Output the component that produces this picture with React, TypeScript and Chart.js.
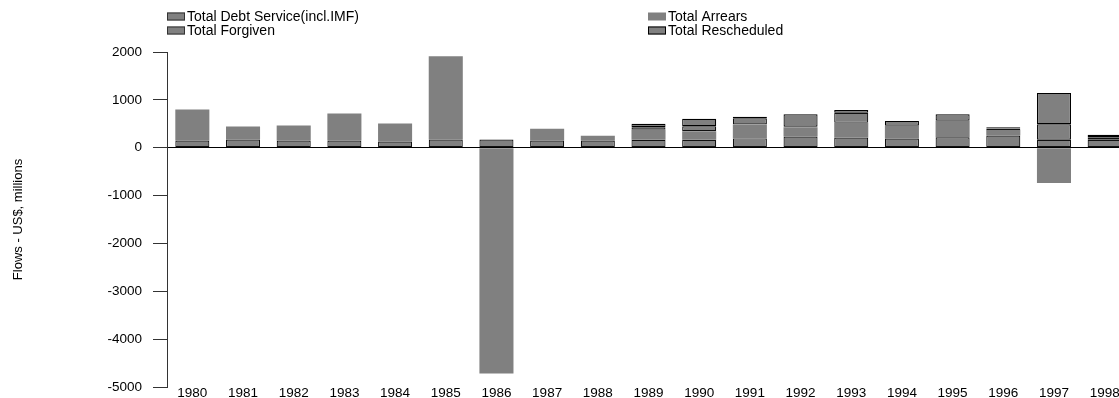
import React, { useEffect, useRef } from "react";
import { Chart, registerables } from "chart.js";

Chart.register(...registerables);

const years = ["1980","1981","1982","1983","1984","1985","1986","1987","1988","1989","1990","1991","1992","1993","1994","1995","1996","1997","1998"];
const debtService = [150,170,150,150,130,170,170,150,150,165,165,195,235,210,190,220,255,165,165];
const arrears = [650,275,315,565,375,1740,-4720,245,100,210,180,290,195,310,270,345,115,-735,null];
const forgiven = [null,null,null,null,null,null,null,null,null,55,105,130,10,210,null,null,30,325,55];
const rescheduled = [null,null,null,null,null,null,null,null,null,70,155,30,260,60,100,135,30,655,50];
const yTicks = [2000,1000,0,-1000,-2000,-3000,-4000,-5000];

const seriesNames = ["Total Debt Service(incl.IMF)", "Total Arrears", "Total Forgiven", "Total Rescheduled"];
const FONT = "'Liberation Sans', Arial, sans-serif";
const GREY = "#808080";

const legendItems = [
  { name: seriesNames[0], col: 0, row: 0, border: "#333333" },
  { name: seriesNames[2], col: 0, row: 1, border: "#333333" },
  { name: seriesNames[1], col: 1, row: 0, border: null },
  { name: seriesNames[3], col: 1, row: 1, border: "#000000" },
];

const legendPlugin = {
  id: "customLegend",
  afterDraw(chart: any) {
    const ctx = chart.ctx;
    const left = chart.chartArea.left;
    ctx.save();
    ctx.font = `14px ${FONT}`;
    ctx.textBaseline = "middle";
    ctx.textAlign = "left";
    legendItems.forEach((it) => {
      const x = Math.round(left + it.col * 481);
      const cy = 16.5 + it.row * 14;
      ctx.fillStyle = GREY;
      ctx.fillRect(x, cy - 4, 18, 8);
      if (it.border) {
        ctx.strokeStyle = it.border;
        ctx.lineWidth = 1;
        ctx.strokeRect(x + 0.5, cy - 4 + 0.5, 17, 7);
      }
      ctx.fillStyle = "#000";
      ctx.fillText(it.name, x + 20, cy + 0.5);
    });
    ctx.restore();
  },
};

export default function App() {
  const ref = useRef<HTMLCanvasElement | null>(null);
  useEffect(() => {
    document.body.style.margin = "0";
    document.body.style.overflow = "hidden";
    document.documentElement.style.overflow = "hidden";
    const common = {
      backgroundColor: GREY,
      barPercentage: 0.672,
      categoryPercentage: 1,
      borderSkipped: false as const,
      inflateAmount: 0,
      stack: "s",
    };
    const chart = new Chart(ref.current!, {
      type: "bar",
      data: {
        labels: years,
        datasets: [
          { ...common, label: seriesNames[0], data: debtService, borderColor: "#111", borderWidth: 1.2 },
          { ...common, label: seriesNames[1], data: arrears as any, borderColor: "#9a9a9a", borderWidth: 0 },
          { ...common, label: seriesNames[2], data: forgiven as any, borderColor: "#111", borderWidth: 1.2 },
          { ...common, label: seriesNames[3], data: rescheduled as any, borderColor: "#000", borderWidth: 1.2 },
        ],
      },
      options: {
        responsive: false,
        animation: false,
        layout: { padding: { top: 52, left: 0, right: 0, bottom: 0 } },
        plugins: { legend: { display: false }, tooltip: { enabled: false } },
        scales: {
          x: {
            stacked: true,
            grid: { display: false, drawTicks: false },
            border: { display: false },
            ticks: { color: "#000", font: { family: FONT, size: 13.5 }, padding: -2, maxRotation: 0, autoSkip: false },
            afterFit: (s: any) => { s.height = 11; s.paddingLeft = 0; s.paddingRight = 0; },
          },
          y: {
            stacked: true,
            min: -5000,
            max: 2000,
            afterBuildTicks: (s: any) => { s.ticks = yTicks.map((v) => ({ value: v })); },
            ticks: {
              color: "#000",
              font: { family: FONT, size: 13.5 },
              padding: 11,
              callback: (v: any) => String(v),
            },
            grid: {
              drawOnChartArea: true,
              drawTicks: true,
              tickLength: 14,
              tickColor: "#333",
              color: (c: any) => (c.tick && c.tick.value === 0 ? "#000" : "rgba(0,0,0,0)"),
              lineWidth: 1,
            },
            border: { display: true, color: "#333", width: 1 },
            title: { display: true, text: "Flows - US$, millions", color: "#000", font: { family: FONT, size: 13 }, padding: { top: 11, bottom: 0 } },
            afterFit: (s: any) => { s.width = 167; s.paddingTop = 0; s.paddingBottom = 0; },
          },
        },
      },
      plugins: [legendPlugin],
    });
    return () => chart.destroy();
  }, []);
  return (
    <div style={{ width: 1130, height: 398, overflow: "hidden" }}>
      <canvas ref={ref} width={1130} height={398} style={{ display: "block" }} />
    </div>
  );
}
